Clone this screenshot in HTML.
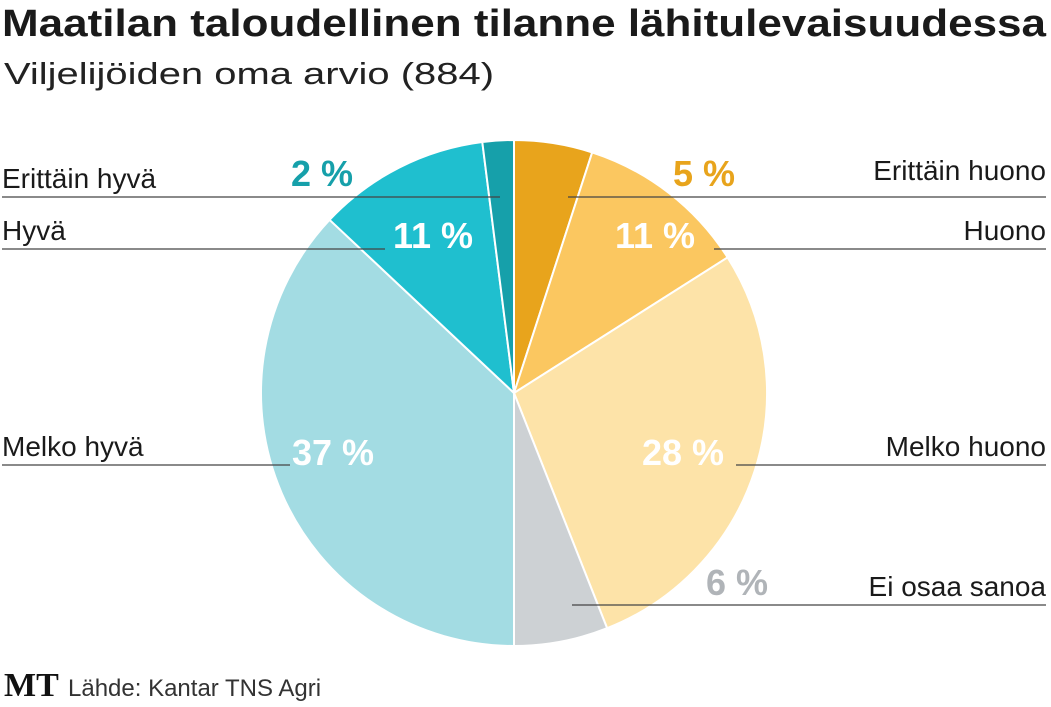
<!DOCTYPE html>
<html><head><meta charset="utf-8"><style>
html,body{margin:0;padding:0;background:#fff;}
body{width:1051px;height:702px;overflow:hidden;font-family:"Liberation Sans",sans-serif;}
</style></head><body>
<svg width="1051" height="702" viewBox="0 0 1051 702">
<text x="2" y="36" font-size="38" font-weight="bold" fill="#1a1a1a" textLength="1044" lengthAdjust="spacingAndGlyphs">Maatilan taloudellinen tilanne lähitulevaisuudessa</text>
<text x="4" y="84" font-size="31" fill="#222" textLength="490" lengthAdjust="spacingAndGlyphs">Viljelijöiden oma arvio (884)</text>
<g id="slices"></g>
<g id="leaders" stroke="#444" stroke-width="1.2"></g>
<g id="labels"></g>
<text x="4" y="696" font-family="Liberation Serif,serif" font-weight="bold" font-size="34" fill="#111">MT</text>
<text x="68" y="696" font-size="24" fill="#333">Lähde: Kantar TNS Agri</text>
</svg>
<script>
const categories=["Erittäin huono","Huono","Melko huono","Ei osaa sanoa","Melko hyvä","Hyvä","Erittäin hyvä"];
const values=[5,11,28,6,37,11,2];
const colors=["#E8A41C","#FBC760","#FDE3A8","#CDD1D4","#A3DCE3","#1FBFCF","#16A0AA"];
const pctColors=["#E8A41C","#fff","#fff","#B0B4B8","#fff","#fff","#16A0AA"];
// layout only
const cx=514,cy=393,r=253;
const layout=[
 {px:704,py:186,lx:1046,ly:180,anchor:"end",line:[568,197,1046,197]},
 {px:655,py:248,lx:1046,ly:240,anchor:"end",line:[714,249,1046,249]},
 {px:683,py:465,lx:1046,ly:456,anchor:"end",line:[736,465,1046,465]},
 {px:737,py:595,lx:1046,ly:596,anchor:"end",line:[572,605,1046,605]},
 {px:333,py:465,lx:2,ly:456,anchor:"start",line:[2,465,290,465]},
 {px:433,py:248,lx:2,ly:240,anchor:"start",line:[2,249,385,249]},
 {px:322,py:186,lx:2,ly:188,anchor:"start",line:[2,197,500,197]}
];
const NS="http://www.w3.org/2000/svg";
const total=values.reduce((a,b)=>a+b,0);
const ang=v=>v/total*2*Math.PI;
let a0=0;
const gS=document.getElementById('slices'),gL=document.getElementById('leaders'),gT=document.getElementById('labels');
values.forEach((v,i)=>{
 const a1=a0+ang(v);
 const x0=cx+r*Math.sin(a0),y0=cy-r*Math.cos(a0),x1=cx+r*Math.sin(a1),y1=cy-r*Math.cos(a1);
 const p=document.createElementNS(NS,'path');
 p.setAttribute('d',`M${cx},${cy}L${x0},${y0}A${r},${r} 0 ${a1-a0>Math.PI?1:0} 1 ${x1},${y1}Z`);
 p.setAttribute('fill',colors[i]);p.setAttribute('stroke','#fff');p.setAttribute('stroke-width','2');
 
 
 gS.appendChild(p);
 a0=a1;
 const L=layout[i];
 const ln=document.createElementNS(NS,'line');
 ln.setAttribute('x1',L.line[0]);ln.setAttribute('y1',L.line[1]);ln.setAttribute('x2',L.line[2]);ln.setAttribute('y2',L.line[3]);
 
 
 gL.appendChild(ln);
 const t=document.createElementNS(NS,'text');
 t.setAttribute('x',L.px);t.setAttribute('y',L.py);t.setAttribute('text-anchor','middle');
 t.setAttribute('font-size','36');t.setAttribute('font-weight','bold');t.setAttribute('fill',pctColors[i]);
 t.textContent=v+' %';
 
 
 gT.appendChild(t);
 const c=document.createElementNS(NS,'text');
 c.setAttribute('x',L.lx);c.setAttribute('y',L.ly);c.setAttribute('text-anchor',L.anchor);
 c.setAttribute('font-size','28');c.setAttribute('fill','#1a1a1a');
 c.textContent=categories[i];
 
 
 gT.appendChild(c);
});
</script>
</body></html>
